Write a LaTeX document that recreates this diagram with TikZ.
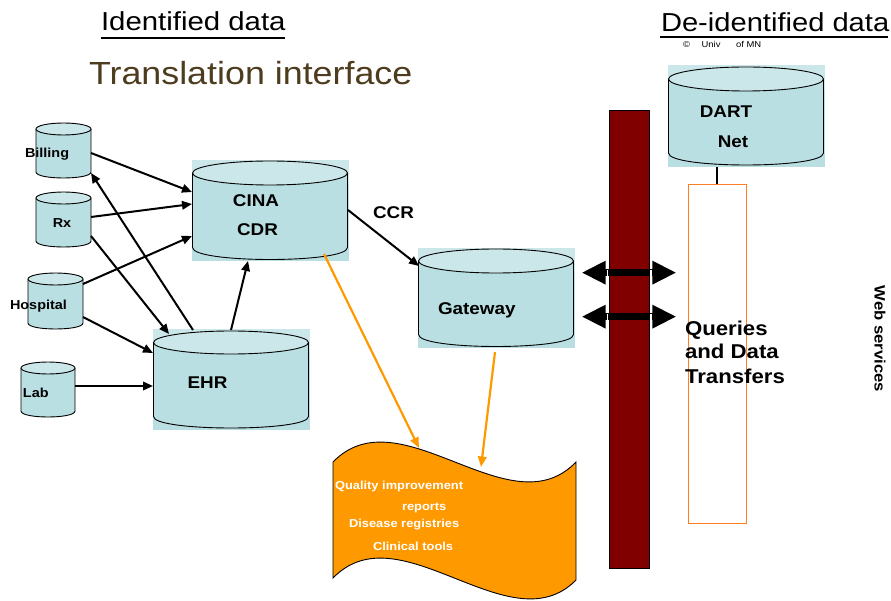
\documentclass[tikz,border=0pt]{standalone}
\usepackage{fontspec}
\setmainfont{Liberation Sans}
\usepackage{graphicx}
\usetikzlibrary{calc,arrows.meta}
\definecolor{cylbody}{RGB}{186,223,226}
\definecolor{cyltop}{RGB}{203,231,233}
\definecolor{barred}{RGB}{128,0,0}
\definecolor{qorange}{RGB}{255,125,35}
\definecolor{waveorange}{RGB}{255,153,0}
\definecolor{titlebrown}{RGB}{77,60,30}
\newcommand\sx[1]{\scalebox{1.11}[1]{#1}}
\newcommand\myfs[1]{\fontsize{#1}{#1}\selectfont}
\newcommand\dbcyl[5]{%
 \fill[cylbody] (#1,#3+#5) -- (#1,#4-#5) .. controls (#1,#4+0.333*#5) and (#2,#4+0.333*#5) .. (#2,#4-#5) -- (#2,#3+#5) -- cycle;
 \draw[cyledge] (#1,#3+#5) -- (#1,#4-#5) .. controls (#1,#4+0.333*#5) and (#2,#4+0.333*#5) .. (#2,#4-#5) -- (#2,#3+#5);
 \filldraw[cyledge,fill=cyltop] ({(#1+#2)/2},#3+#5) ellipse [x radius={(#2-#1)/2*1pt}, y radius=#5pt];
}
\newcommand\dbbg[5]{%
 \fill[cylbody] (#1,#3) rectangle (#2,#4);
 \fill[cyltop] (#1,#3) rectangle (#2,#3+2*#5+1);
}
\begin{document}
\begin{tikzpicture}[x=1pt, y=-1pt,
  cyledge/.style={draw=black, line width=0.9pt},
  blackarrow/.style={draw=black, line width=2pt, -{Triangle[length=10pt,width=8.5pt]}},
  orangearrow/.style={draw=waveorange, line width=2.2pt, -{Triangle[length=10.5pt,width=8.5pt]}},
  dblarrow/.style={draw=black, line width=7.5pt, {Triangle[length=24pt,width=22pt]}-{Triangle[length=24pt,width=22pt]}},
  hitbox/.style={inner sep=0pt, outer sep=0pt, draw=none},
  txt/.style={inner sep=0pt, outer sep=0pt, anchor=base west},
  lbl/.style={inner sep=0pt, outer sep=0pt, anchor=base, font=\bfseries\myfs{17}},
  small/.style={inner sep=0pt, outer sep=0pt, font=\bfseries\myfs{13}},
  wtxt/.style={inner sep=0pt, outer sep=0pt, anchor=base west, text=white, font=\bfseries\myfs{11.6}}]
\useasboundingbox (0,0) rectangle (891,601);
\fill[white] (0,0) rectangle (891,601);

% headers
\node[txt] (hid) at (101,31) {\myfs{26}\scalebox{1.13}[1]{Identified data}};
\fill (101,37) rectangle (285,39.5);
\node[txt] (hdeid) at (661,32) {\myfs{26}\scalebox{1.12}[1]{De-identified data}};
\fill (660,36) rectangle (888,38.5);
\node[txt] (copy) at (683,48) {\myfs{8.5}\sx{©\hspace{10.5pt}Univ\hspace{14pt}of MN}};
\node[txt, text=titlebrown] (title) at (89,85) {\myfs{32}\scalebox{1.12}[1]{Translation interface}};

% hit boxes
\node[hitbox, minimum width=55pt, minimum height=55pt] (bill) at (63.5,150.5) {};
\node[hitbox, minimum width=55pt, minimum height=55pt] (rx) at (63.5,219.5) {};
\node[hitbox, minimum width=55pt, minimum height=56pt] (hosp) at (55.5,301) {};
\node[hitbox, minimum width=54pt, minimum height=55pt] (lab) at (48,389.5) {};
\node[hitbox, minimum width=157pt, minimum height=101pt] (cina) at (270.5,210.5) {};
\node[hitbox, minimum width=157pt, minimum height=101pt] (ehr) at (231.5,379.5) {};
\node[hitbox, minimum width=157pt, minimum height=100pt] (gate) at (496.5,298) {};
\node[hitbox, minimum width=157pt, minimum height=102pt] (dart) at (746.5,116) {};
\node[hitbox, minimum width=243pt, minimum height=160pt] (wave) at (454.5,520) {};

% firewall bar and query box
\node[draw=black, fill=barred, line width=0.7pt, minimum width=40pt, minimum height=458pt, inner sep=0pt] (bar) at (629,339) {};
\node[draw=qorange, line width=1pt, minimum width=58pt, minimum height=338pt, inner sep=0pt] (qrect) at (717,354) {};
\draw[line width=2pt] (qrect.north |- dart.south) -- (qrect.north);

% double arrows
\coordinate (la1) at ($(bar.north west)+(-27,163)$);
\coordinate (ra1) at ($(bar.north east)+(27,163)$);
\coordinate (la2) at ($(bar.north west)+(-27,207)$);
\coordinate (ra2) at ($(bar.north east)+(27,207)$);
\draw[dblarrow] (la1) -- (ra1);
\draw[dblarrow] (la2) -- (ra2);
\foreach \c in {la1,la2}{\draw[white, line width=1.3pt] ($(\c)+(25.5,-3)$) -- ($(\c)+(25.5,3)$);}
\foreach \c in {ra1,ra2}{\draw[white, line width=1.3pt] ($(\c)+(-25.5,-3)$) -- ($(\c)+(-25.5,3)$);}

% cylinders
\dbcyl{36}{91}{123}{178}{6}
\dbcyl{36}{91}{192}{247}{6}
\dbcyl{28}{83}{273}{329}{6}
\dbcyl{21}{75}{362}{417}{6}
\dbbg{192}{349}{160}{261}{12}
\dbcyl{192.5}{347.5}{161}{259.5}{12}
\dbbg{153}{310}{329}{430}{11.5}
\dbcyl{153.5}{308.5}{331}{428}{11.5}
\dbbg{418}{575}{248}{348}{12}
\dbcyl{418.5}{573.5}{249}{346.5}{12}
\dbbg{668}{825}{65}{167}{12}
\dbcyl{668.5}{823.5}{67}{165}{12}

% cylinder labels
\node[small, anchor=base west] (tbill) at (25,158) {\sx{Billing}};
\node[small, anchor=base] (trx) at (62,228) {\sx{Rx}};
\node[small, anchor=base west] (thosp) at (10,310) {\sx{Hospital}};
\node[small, anchor=base west] (tlab) at (23,397) {\sx{Lab}};
\node[lbl] (tcina) at (256,207) {\sx{CINA}};
\node[lbl] (tcdr) at (257.5,236) {\sx{CDR}};
\node[lbl] (tehr) at (207.5,388) {\sx{EHR}};
\node[lbl, anchor=base west] (tgate) at (438,315) {\sx{Gateway}};
\node[lbl] (tdart) at (726,118) {\sx{DART}};
\node[lbl] (tnet) at (733,148) {\sx{Net}};
\node[lbl] (tccr) at (393.5,219) {\sx{CCR}};

% black connectors
\draw[blackarrow] ($(bill.north east)+(0,30)$) -- ($(cina.north west)+(0,32)$);
\draw[blackarrow] ($(rx.north east)+(0,25)$) -- ($(cina.north west)+(0,44)$);
\draw[blackarrow] ($(hosp.north east)+(0,11)$) -- ($(cina.north west)+(0,76)$);
\draw[blackarrow] ($(rx.north east)+(0,44)$) -- ($(ehr.north west)+(16,5)$);
\draw[blackarrow] ($(hosp.north east)+(0,44)$) -- ($(ehr.north west)+(0,24)$);
\draw[blackarrow] ($(lab.north east)+(0,24)$) -- ($(ehr.north west)+(0,57)$);
\draw[blackarrow] ($(ehr.north west)+(40,1)$) -- ($(bill.south east)+(0,-5)$);
\draw[blackarrow] ($(ehr.north west)+(78,1)$) -- ($(cina.south west)+(56,0)$);
\draw[blackarrow] ($(cina.north east)+(-1,50)$) -- ($(gate.north west)+(1,18)$);

% report wave
\filldraw[draw=black, line width=0.9pt, fill=waveorange] (333,462) .. controls (400,393) and (510,531) .. (576,462) -- (576,580) .. controls (510,647) and (400,509) .. (333,578) -- cycle;
\node[wtxt] (w1) at (335,489) {\sx{Quality improvement}};
\node[wtxt] (w2) at (402,510) {\sx{reports}};
\node[wtxt] (w3) at (349,527) {\sx{Disease registries}};
\node[wtxt] (w4) at (373,550) {\sx{Clinical tools}};

% orange connectors
\draw[orangearrow] ($(cina.south west)+(132,-7)$) -- ($(wave.north west)+(86,8)$);
\draw[orangearrow] ($(gate.south west)+(77,4)$) -- ($(wave.north west)+(148,27)$);

% right texts
\node[txt, font=\bfseries\myfs{20}] (q1) at (685,335) {\sx{Queries}};
\node[txt, font=\bfseries\myfs{20}] (q2) at (685,359) {\sx{and Data}};
\node[txt, font=\bfseries\myfs{20}] (q3) at (685,383) {\sx{Transfers}};
\node[inner sep=0pt, rotate=-90, font=\bfseries\myfs{15}] (web) at (880,339) {\sx{Web services}};
\end{tikzpicture}
\end{document}
